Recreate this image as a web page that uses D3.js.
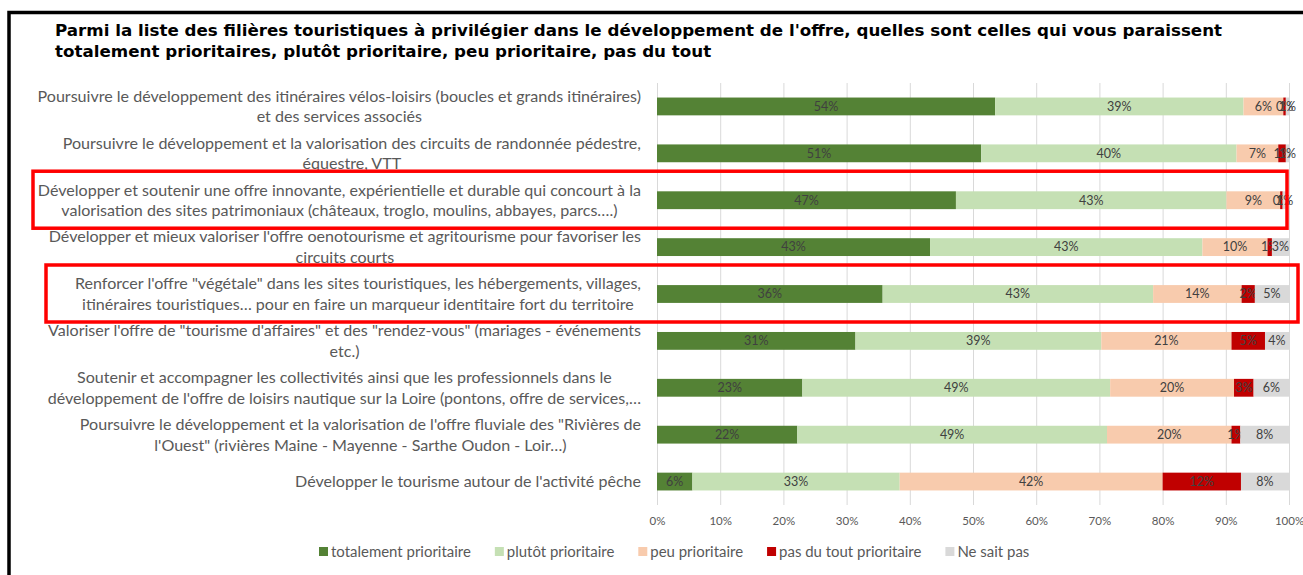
<!DOCTYPE html>
<html>
<head>
<meta charset="utf-8">
<script src="https://cdn.jsdelivr.net/npm/d3@7/dist/d3.min.js"></script>
<style>
  body { margin: 0; background: #fff; }
  svg { display: block; }
</style>
</head>
<body>
<div id="chart"></div>
<script>
const titleLines = [
    "Parmi la liste des filières touristiques à privilégier dans le développement de l'offre, quelles sont celles qui vous paraissent",
    "totalement prioritaires, plutôt prioritaire, peu prioritaire, pas du tout"
]

const categories = [
    "Poursuivre le développement des itinéraires vélos-loisirs (boucles et grands itinéraires)|et des services associés",
    "Poursuivre le développement et la valorisation des circuits de randonnée pédestre,|équestre, VTT",
    "Développer et soutenir une offre innovante, expérientielle et durable qui concourt à la|valorisation des sites patrimoniaux (châteaux, troglo, moulins, abbayes, parcs….)",
    "Développer et mieux valoriser l'offre oenotourisme et agritourisme pour favoriser les|circuits courts",
    "Renforcer l'offre \"végétale\" dans les sites touristiques, les hébergements, villages,|itinéraires touristiques… pour en faire un marqueur identitaire fort du territoire",
    "Valoriser l'offre de \"tourisme d'affaires\" et des \"rendez-vous\" (mariages - événements|etc.)",
    "Soutenir et accompagner les collectivités ainsi que les professionnels dans le|développement de l'offre de loisirs nautique sur la Loire (pontons, offre de services,…",
    "Poursuivre le développement et la valorisation de l'offre fluviale des \"Rivières de|l'Ouest\" (rivières Maine - Mayenne - Sarthe Oudon - Loir…)",
    "Développer le tourisme autour de l'activité pêche"
]

const seriesNames = ["totalement prioritaire", "plutôt prioritaire", "peu prioritaire", "pas du tout prioritaire", "Ne sait pas"]
const seriesColors = ["#548235", "#c5e0b4", "#f8cbad", "#c00000", "#d9d9d9"]

const totalement = [53.5, 51.3, 47.3, 43.2, 35.7, 31.4, 23.0, 22.2, 5.6]
const plutot     = [39.3, 40.4, 42.8, 43.1, 42.8, 38.9, 48.7, 49.0, 32.8]
const peu        = [6.3, 6.6, 8.5, 10.3, 14.0, 20.6, 19.6, 19.7, 41.6]
const pasDuTout  = [0.4, 1.2, 0.4, 0.7, 2.1, 5.3, 3.1, 1.4, 12.4]
const neSaitPas  = [0.5, 0.5, 0.6, 2.7, 5.4, 3.8, 5.6, 7.7, 7.6]

const xTicks = [0, 10, 20, 30, 40, 50, 60, 70, 80, 90, 100]

// lignes encadrées en rouge
const highlighted = [2, 4]

const width = 1303
const height = 575
const plot = {left: 657, right: 1289, top: 83, bottom: 505}
const labelFont = "Lato, 'Liberation Sans', sans-serif"

const keys = ["tot", "plu", "peu", "pas", "nsp"]
const tableData = categories.map((c, i) => ({
    cat: c,
    tot: totalement[i], plu: plutot[i], peu: peu[i], pas: pasDuTout[i], nsp: neSaitPas[i]
}))

const svg = d3.select('#chart').append('svg')
    .attr('width', width)
    .attr('height', height)

// taille de police ajustée à une largeur cible
function fitSize(text, family, weight, target) {
    const t = svg.append('text')
        .attr('font-family', family)
        .attr('font-weight', weight)
        .attr('font-size', 20)
        .text(text)
    const w = t.node().getComputedTextLength()
    t.remove()
    return 20 * target / w
}

const labelSize = fitSize(categories[0].split('|')[0], labelFont, 'normal', 604)
const legendSize = fitSize(seriesNames[0], labelFont, 'normal', 140)
const titleSize = fitSize(titleLines[0], "'DejaVu Sans', sans-serif", 'bold', 1168)

// cadre
svg.append('rect')
    .attr('x', 9).attr('y', 12.5)
    .attr('width', width + 20).attr('height', height + 20)
    .attr('fill', 'none')
    .attr('stroke', '#000')
    .attr('stroke-width', 3.5)

// titre
svg.append('g').selectAll('text').data(titleLines).join('text')
    .attr('x', 55)
    .attr('y', (_, i) => 36 + 20.5 * i)
    .attr('font-family', "'DejaVu Sans', sans-serif")
    .attr('font-weight', 'bold')
    .attr('font-size', titleSize)
    .attr('fill', '#000')
    .text(d => d)

const xScale = d3.scaleLinear()
    .domain([0, 100])
    .range([plot.left, plot.right])

const yScale = d3.scaleBand()
    .domain(categories)
    .range([plot.top, plot.bottom])
    .paddingInner(0.62)
    .paddingOuter(0.31)

// grille
const gridG = svg.append('g')
    .attr('transform', `translate(0,${plot.bottom})`)
    .call(d3.axisBottom(xScale).tickValues(xTicks).tickSize(-(plot.bottom - plot.top)).tickFormat(''))
gridG.select('.domain').remove()
gridG.selectAll('line').attr('stroke', '#d9d9d9').attr('stroke-width', 1)

// axe x
const xAxisG = svg.append('g')
    .attr('transform', `translate(0,${plot.bottom})`)
    .call(d3.axisBottom(xScale).tickValues(xTicks).tickSize(0).tickPadding(12).tickFormat(d => d + '%'))
xAxisG.select('.domain').remove()
xAxisG.selectAll('text')
    .attr('font-family', labelFont)
    .attr('font-size', 11.5)
    .attr('fill', '#595959')

// barres empilées
const series = d3.stack().keys(keys)(tableData)

const seriesG = svg.append('g').selectAll('.series')
    .data(series)
    .join('g')
    .attr('class', 'series')
    .attr('fill', (_, i) => seriesColors[i])

seriesG.selectAll('rect')
    .data(d => d)
    .join('rect')
    .attr('x', d => xScale(d[0]))
    .attr('y', d => yScale(d.data.cat))
    .attr('width', d => xScale(d[1]) - xScale(d[0]))
    .attr('height', yScale.bandwidth())

seriesG.selectAll('text')
    .data(d => d)
    .join('text')
    .attr('x', d => (xScale(d[0]) + xScale(d[1])) / 2)
    .attr('y', d => yScale(d.data.cat) + yScale.bandwidth() / 2)
    .attr('dy', '0.35em')
    .attr('text-anchor', 'middle')
    .attr('font-family', labelFont)
    .attr('font-size', 12.5)
    .attr('fill', '#404040')
    .text(d => Math.round(d[1] - d[0]) + '%')

// libellés des catégories
const labelG = svg.append('g')
const lineH = 20.5
categories.forEach(c => {
    const lines = c.split('|')
    const g = labelG.append('g')
    const t = g.selectAll('text').data(lines).join('text')
        .attr('y', (_, i) => yScale(c) + yScale.bandwidth() / 2 + (i - (lines.length - 1) / 2) * lineH)
        .attr('dy', '0.35em')
        .attr('text-anchor', 'middle')
        .attr('font-family', labelFont)
        .attr('font-size', labelSize)
        .attr('fill', '#595959')
        .text(d => d)
    const maxW = d3.max(t.nodes(), n => n.getComputedTextLength())
    t.attr('x', 641 - maxW / 2)
})

// encadrés rouges
svg.append('g').selectAll('rect')
    .data(highlighted)
    .join('rect')
    .attr('x', (_, i) => i == 0 ? 33 : 46)
    .attr('y', d => yScale(categories[d]) + yScale.bandwidth() / 2 - 29)
    .attr('width', (_, i) => i == 0 ? 1254 : 1252)
    .attr('height', 57)
    .attr('fill', 'none')
    .attr('stroke', '#ff0000')
    .attr('stroke-width', 3.5)

// légende
const legendG = svg.append('g').attr('class', 'legend')
const items = legendG.selectAll('g').data(seriesNames).join('g')
items.append('rect')
    .attr('width', 9).attr('height', 9)
    .attr('y', 547)
    .attr('fill', (_, i) => seriesColors[i])
items.append('text')
    .attr('x', 12)
    .attr('y', 551.5)
    .attr('dy', '0.35em')
    .attr('font-family', labelFont)
    .attr('font-size', legendSize)
    .attr('fill', '#595959')
    .text(d => d)
const widths = items.nodes().map(n => 12 + d3.select(n).select('text').node().getComputedTextLength())
const gap = 24
let cx = 319
items.each(function (_, i) {
    d3.select(this).attr('transform', `translate(${cx},0)`)
    cx += widths[i] + gap
})
</script>
</body>
</html>
